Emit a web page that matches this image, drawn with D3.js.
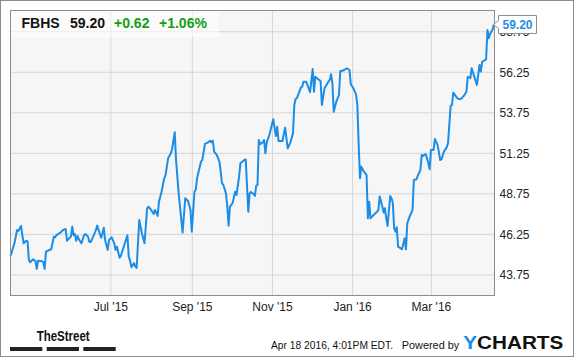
<!DOCTYPE html>
<html><head><meta charset="utf-8">
<script src="https://cdn.jsdelivr.net/npm/d3@7"></script>
<style>body{margin:0;background:#fff}svg{display:block;font-family:"Liberation Sans",Arial,sans-serif}</style>
</head><body><svg id="c" width="575" height="358"></svg>
<script>
const ticker = "FBHS";
const lastPrice = "59.20", change = "+0.62", changePct = "+1.06%";
const dates = [
"2015-04-16","2015-04-19","2015-04-21","2015-04-22","2015-04-24","2015-04-25","2015-04-26","2015-04-28","2015-04-29","2015-04-30",
"2015-05-01","2015-05-03","2015-05-05","2015-05-06","2015-05-07","2015-05-10","2015-05-11","2015-05-12","2015-05-13","2015-05-15",
"2015-05-17","2015-05-19","2015-05-20","2015-05-21","2015-05-24","2015-05-26","2015-05-28","2015-05-29","2015-05-30","2015-06-01",
"2015-06-02","2015-06-03","2015-06-04","2015-06-05","2015-06-06","2015-06-07","2015-06-09","2015-06-11","2015-06-12","2015-06-14",
"2015-06-15","2015-06-16","2015-06-18","2015-06-20","2015-06-21","2015-06-22","2015-06-24","2015-06-25","2015-06-26","2015-06-27",
"2015-06-29","2015-06-30","2015-07-02","2015-07-04","2015-07-05","2015-07-06","2015-07-08","2015-07-09","2015-07-12","2015-07-14",
"2015-07-15","2015-07-16","2015-07-17","2015-07-19","2015-07-20","2015-07-21","2015-07-23","2015-07-25","2015-07-27","2015-07-29",
"2015-07-30","2015-08-01","2015-08-03","2015-08-04","2015-08-06","2015-08-07","2015-08-09","2015-08-11","2015-08-12","2015-08-14",
"2015-08-16","2015-08-17","2015-08-19","2015-08-20","2015-08-22","2015-08-25","2015-08-27","2015-08-29","2015-08-30","2015-08-31",
"2015-09-01","2015-09-03","2015-09-04","2015-09-05","2015-09-08","2015-09-09","2015-09-11","2015-09-13","2015-09-15","2015-09-16",
"2015-09-17","2015-09-18","2015-09-20","2015-09-22","2015-09-23","2015-09-24","2015-09-25","2015-09-27","2015-09-28","2015-09-29",
"2015-09-30","2015-10-02","2015-10-04","2015-10-05","2015-10-07","2015-10-08","2015-10-11","2015-10-12","2015-10-14","2015-10-15",
"2015-10-16","2015-10-18","2015-10-19","2015-10-20","2015-10-21","2015-10-22","2015-10-23","2015-10-25","2015-10-26","2015-10-27",
"2015-10-28","2015-10-30","2015-11-02","2015-11-03","2015-11-04","2015-11-05","2015-11-06","2015-11-09","2015-11-11","2015-11-13",
"2015-11-15","2015-11-17","2015-11-18","2015-11-19","2015-11-20","2015-11-23","2015-11-24","2015-11-25","2015-11-27","2015-11-29",
"2015-11-30","2015-12-02","2015-12-03","2015-12-04","2015-12-06","2015-12-08","2015-12-09","2015-12-11","2015-12-14","2015-12-15",
"2015-12-16","2015-12-17","2015-12-18","2015-12-20","2015-12-22","2015-12-23","2015-12-24","2015-12-26","2015-12-28","2015-12-30",
"2015-12-31","2016-01-02","2016-01-04","2016-01-05","2016-01-06","2016-01-07","2016-01-08","2016-01-10","2016-01-12","2016-01-13",
"2016-01-14","2016-01-15","2016-01-16","2016-01-18","2016-01-20","2016-01-21","2016-01-22","2016-01-24","2016-01-25","2016-01-26",
"2016-01-27","2016-01-28","2016-01-30","2016-01-31","2016-02-01","2016-02-02","2016-02-03","2016-02-04","2016-02-05","2016-02-07",
"2016-02-08","2016-02-10","2016-02-11","2016-02-12","2016-02-14","2016-02-16","2016-02-17","2016-02-19","2016-02-20","2016-02-22",
"2016-02-23","2016-02-24","2016-02-26","2016-02-28","2016-02-29","2016-03-01","2016-03-03","2016-03-04","2016-03-06","2016-03-07",
"2016-03-08","2016-03-09","2016-03-11","2016-03-13","2016-03-14","2016-03-16","2016-03-17","2016-03-18","2016-03-21","2016-03-22",
"2016-03-24","2016-03-26","2016-03-28","2016-03-29","2016-03-31","2016-04-01","2016-04-03","2016-04-05","2016-04-07","2016-04-08",
"2016-04-09","2016-04-12","2016-04-13","2016-04-14","2016-04-15","2016-04-17","2016-04-18"
];
const prices = [
44.89,45.67,46.49,46.43,46.74,46.18,45.67,45.83,45.79,44.64,
44.50,44.68,44.58,44.09,44.60,44.56,44.50,44.09,45.15,45.24,
45.30,46.08,46.04,46.18,46.33,46.49,46.55,45.83,45.92,46.08,
46.70,46.18,46.24,45.83,46.12,45.92,45.67,46.18,46.24,46.08,
45.77,45.75,46.08,46.49,46.76,46.49,46.02,46.29,46.63,45.88,
45.26,45.88,46.04,45.67,45.26,45.46,44.78,44.89,45.67,46.16,
44.85,44.60,44.19,44.45,44.23,44.15,47.11,46.29,45.67,47.83,
47.93,47.73,47.48,47.73,47.36,48.24,48.85,49.68,49.88,50.92,
51.22,51.47,52.52,50.81,48.75,46.33,48.45,48.30,48.03,47.73,
46.39,48.85,48.96,49.68,50.71,50.81,51.80,51.88,52.00,51.90,
52.00,51.32,51.12,50.71,50.09,49.37,49.27,48.75,47.93,46.76,
47.93,48.14,48.85,48.65,49.78,50.61,50.81,50.85,47.62,48.75,
48.84,48.71,48.59,49.21,49.27,52.04,51.78,51.90,52.04,51.22,
51.90,52.35,53.32,52.77,52.29,52.86,51.98,51.98,52.80,51.53,
51.88,52.46,54.20,54.57,54.62,55.27,55.33,55.64,55.64,55.23,
54.99,56.42,55.02,55.95,55.81,55.68,54.20,55.23,55.64,55.75,
56.10,55.54,53.79,54.41,54.82,56.30,56.30,56.36,56.47,56.36,
55.48,55.23,54.86,54.20,51.74,49.68,50.40,50.09,49.88,47.21,
48.24,47.21,47.31,47.46,47.62,47.73,48.55,47.93,47.56,47.83,
47.21,46.74,48.59,48.45,48.14,46.60,46.39,46.66,45.46,45.36,
45.30,45.98,45.30,46.91,47.36,47.73,49.58,49.62,49.84,50.19,
51.12,51.06,51.18,50.64,50.24,51.43,51.43,52.11,51.74,51.32,
50.81,50.85,51.35,51.59,51.84,54.14,54.20,54.96,54.62,54.57,
54.59,54.76,55.02,55.95,55.85,56.47,55.95,55.44,56.67,56.26,
56.87,57.02,58.83,58.32,58.58,58.87,59.20
];
const yTicks = [43.75, 46.25, 48.75, 51.25, 53.75, 56.25, 58.75];
const xTickDates = ["2015-07-01","2015-09-01","2015-11-01","2016-01-01","2016-03-01"];
const xTickLabels = ["Jul '15","Sep '15","Nov '15","Jan '16","Mar '16"];
const timestamp = "Apr 18 2016, 4:01PM EDT.";
const poweredBy = "Powered by";

const parse = d3.timeParse("%Y-%m-%d");
const data = dates.map((d, i) => ({date: parse(d), value: prices[i]}));

const L = 10.5, R = 494.5, T = 10.5, B = 295.5;
const svg = d3.select("#c");
const x = d3.scaleTime().domain([parse("2015-04-16"), parse("2016-04-18")]).range([L, 494]);
const y = d3.scaleLinear().domain([42.45, 60.03]).range([B, T]);

// outer frame
svg.append("rect").attr("x",0.5).attr("y",0.5).attr("width",573).attr("height",356)
  .attr("fill","#fff").attr("stroke","#8c8c8c");

// plot background
svg.append("rect").attr("x",L).attr("y",T).attr("width",R-L).attr("height",B-T).attr("fill","#f6f6f6");

// grid + axes
const yAxis = d3.axisRight(y).tickValues(yTicks).tickFormat(d3.format(".2f"))
  .tickSize(-(R-L)).tickPadding(5);
const gy = svg.append("g").attr("transform",`translate(${R},0)`).call(yAxis);
gy.select(".domain").remove();
gy.selectAll("line").attr("stroke","#d6d6d6");
gy.selectAll("text").attr("font-size",12).attr("fill","#222").attr("dy","0.38em")
  .attr("font-family","'Liberation Sans',Arial,sans-serif");

const xAxis = d3.axisBottom(x).tickValues(xTickDates.map(parse))
  .tickFormat((d,i)=>xTickLabels[i]).tickSize(-(B-T)).tickPadding(6.5);
const gx = svg.append("g").attr("transform",`translate(0,${B})`).call(xAxis);
gx.select(".domain").remove();
gx.selectAll("line").attr("stroke","#d6d6d6");
gx.selectAll("text").attr("font-size",12).attr("fill","#222")
  .attr("font-family","'Liberation Sans',Arial,sans-serif");

// header box
svg.append("rect").attr("x",L).attr("y",T).attr("width",208.5).attr("height",26.5)
  .attr("fill","#fff").attr("opacity",0.55);
const hdr = svg.append("text").attr("y",28.3).attr("font-size",14).attr("font-weight","bold");
hdr.append("tspan").attr("x",21.5).attr("fill","#111").text(ticker);
hdr.append("tspan").attr("x",70).attr("fill","#111").text(lastPrice);
hdr.append("tspan").attr("x",114).attr("fill","#14a014").text(change);
hdr.append("tspan").attr("x",159).attr("fill","#14a014").text(changePct);

// price line
const line = d3.line().x(d=>x(d.date)).y(d=>y(d.value));
svg.append("path").datum(data).attr("d",line).attr("fill","none")
  .attr("stroke","#1c8de6").attr("stroke-width",2).attr("stroke-linejoin","round");

// plot frame
svg.append("rect").attr("x",L).attr("y",T).attr("width",R-L).attr("height",B-T)
  .attr("fill","none").attr("stroke","#8c8c8c");

// last price badge
const last = data[data.length-1];
const bx = x(last.date), by = y(last.value);
const bl = bx + 4.5, br = bl + 38, bt = by - 8.5, bb = by + 9.5;
svg.append("path")
  .attr("d",`M${bl},${bt}H${br}V${bb}H${bl}V${by+4.5}L${bx-0.5},${by+0.5}L${bl},${by-3.5}Z`)
  .attr("fill","#fff").attr("stroke","#8c8c8c");
svg.append("text").attr("x",(bl+br)/2).attr("y",by+5.3).attr("text-anchor","middle")
  .attr("font-size",12).attr("font-weight","bold").attr("fill","#1c8de6").text(lastPrice);

// footer: TheStreet
svg.append("text").attr("x",36.7).attr("y",341).attr("font-size",15).attr("font-weight","bold")
  .attr("fill","#111").attr("textLength",53).attr("lengthAdjust","spacingAndGlyphs").text("TheStreet");
[[10,42.3],[46.7,79],[83.3,115.7]].forEach(([a,b])=>{
  svg.append("rect").attr("x",a).attr("y",347).attr("width",b-a).attr("height",4).attr("fill","#222");
});

// footer right
svg.append("text").attr("x",271).attr("y",349.3).attr("font-size",11).attr("fill","#111")
  .attr("textLength",122).attr("lengthAdjust","spacingAndGlyphs").text(timestamp);
svg.append("text").attr("x",401.7).attr("y",349.3).attr("font-size",11).attr("fill","#111")
  .attr("textLength",57.6).attr("lengthAdjust","spacingAndGlyphs").text(poweredBy);
const yc = svg.append("text").attr("x",463.3).attr("y",348.7).attr("font-size",18.5).attr("font-weight","bold")
  .attr("textLength",100).attr("lengthAdjust","spacingAndGlyphs");
yc.append("tspan").attr("fill","#1c8de6").text("Y");
yc.append("tspan").attr("fill","#111").text("CHARTS");
</script></body></html>
